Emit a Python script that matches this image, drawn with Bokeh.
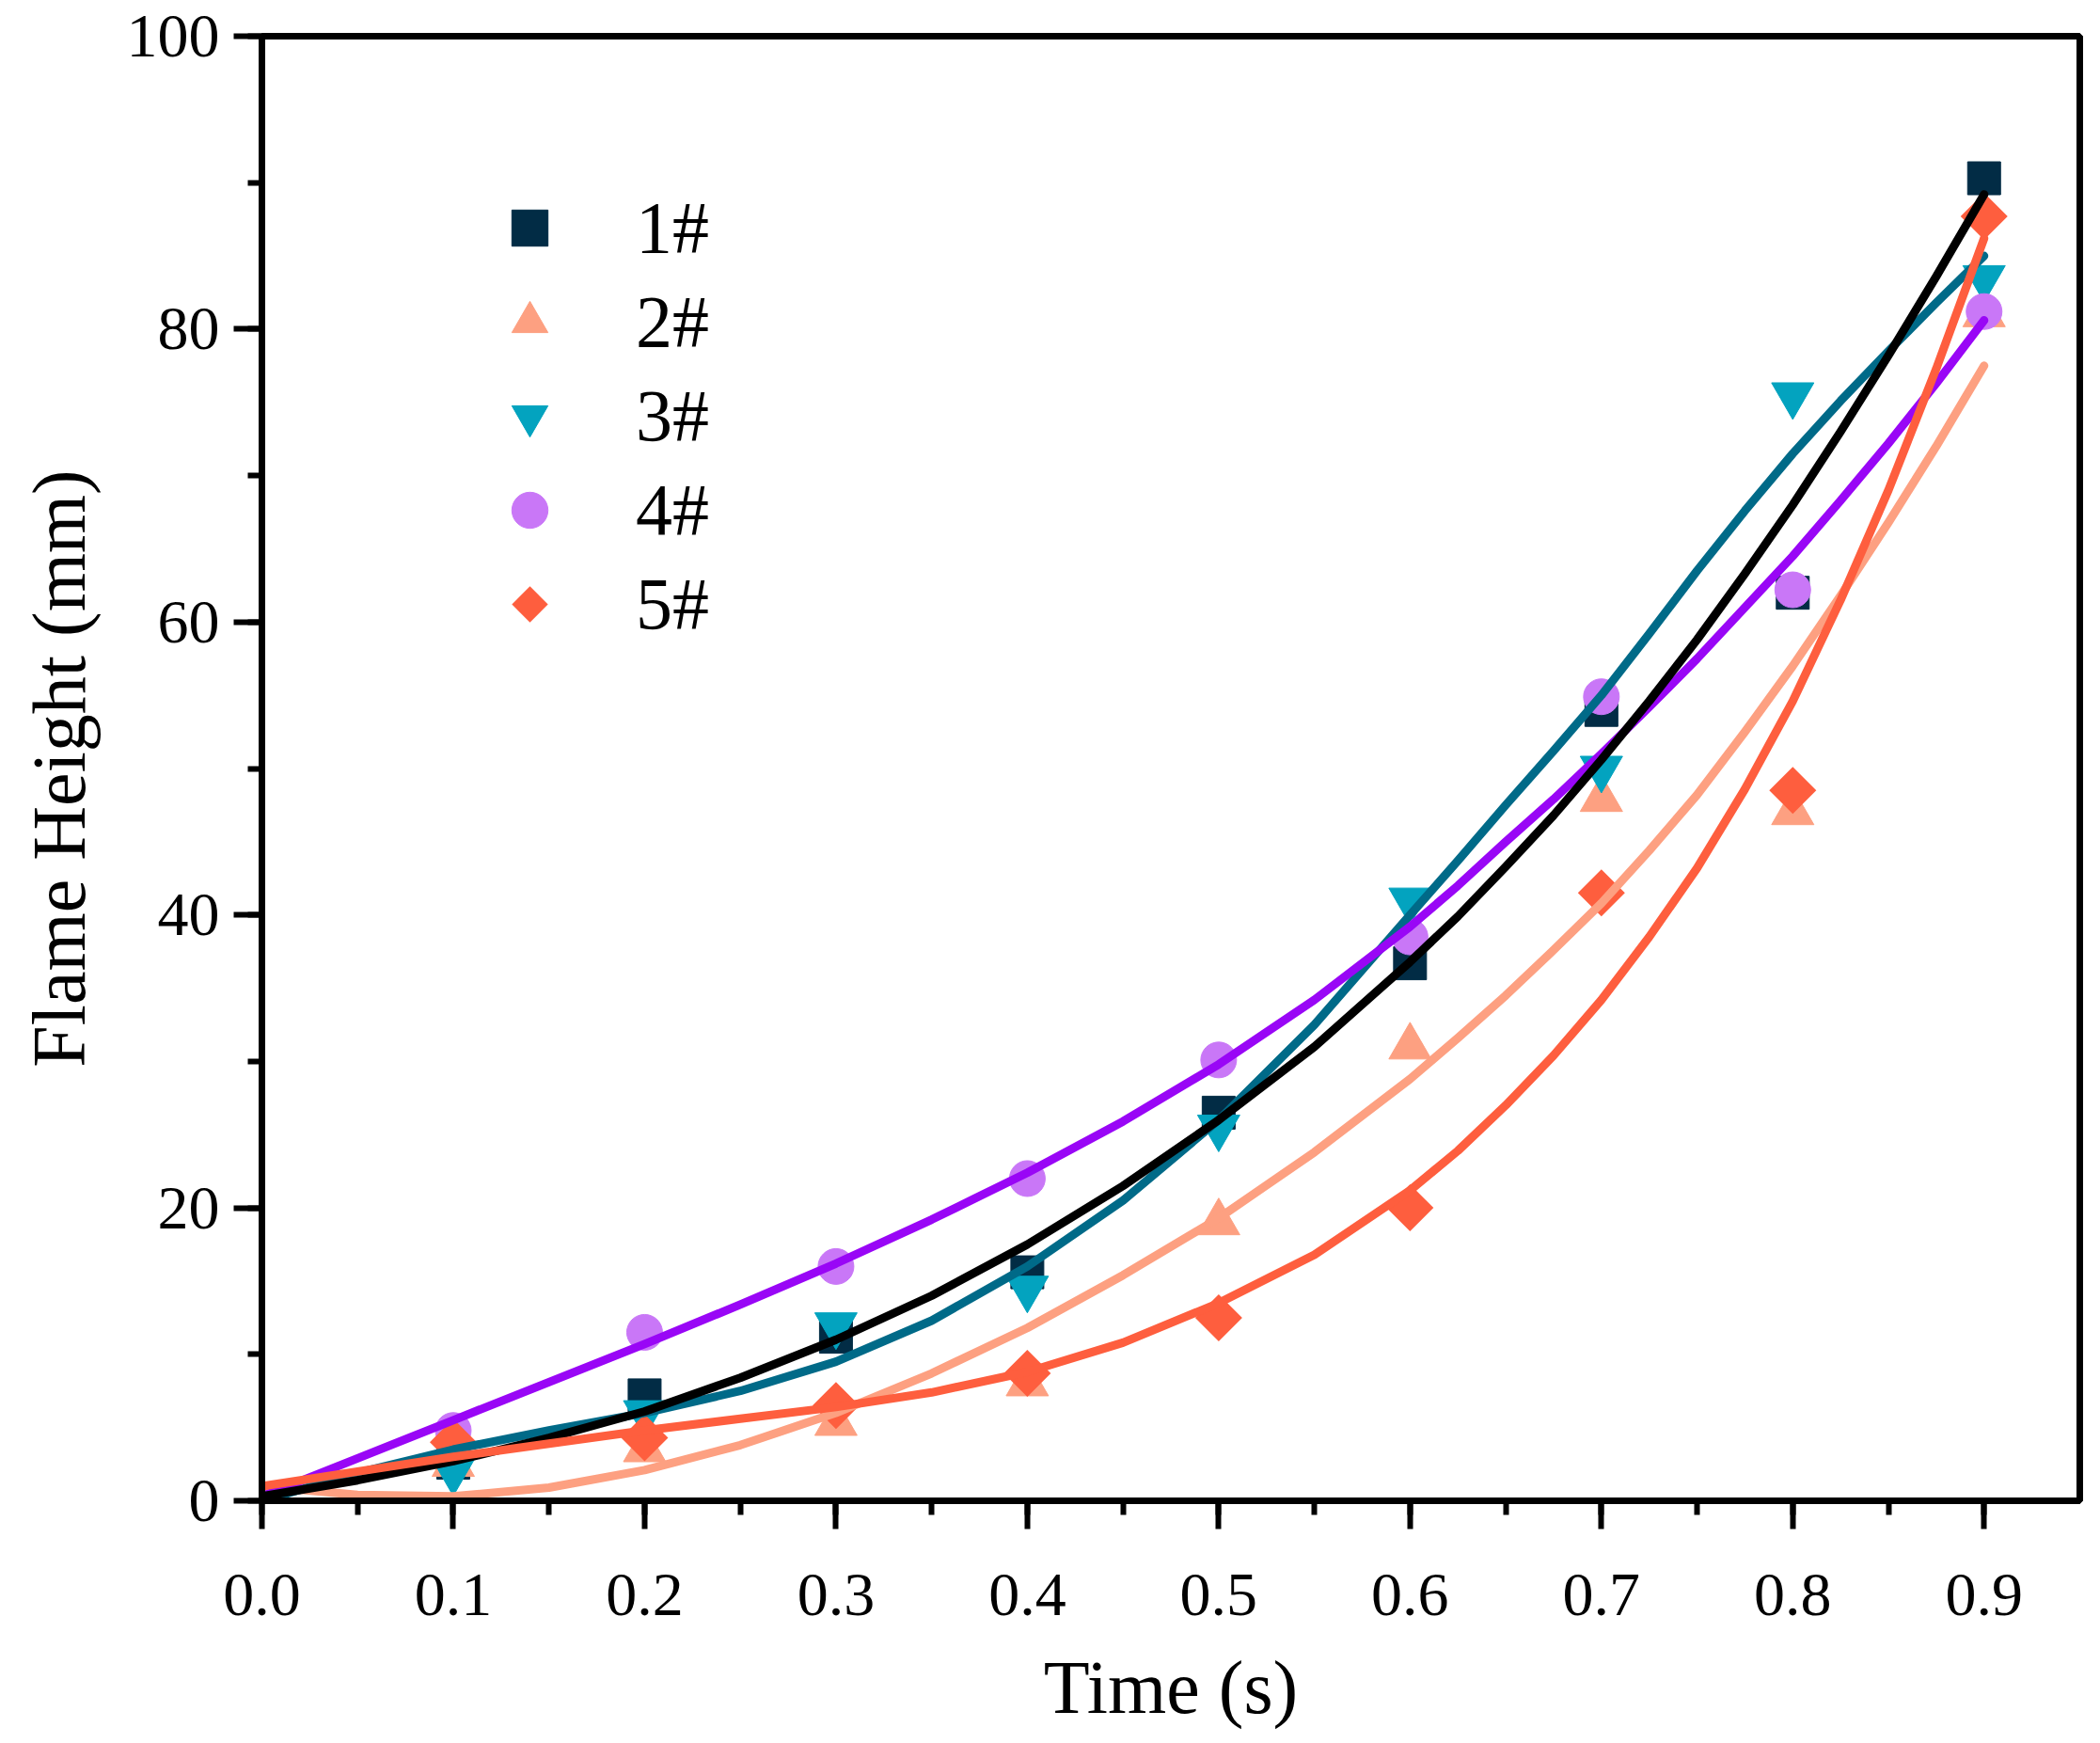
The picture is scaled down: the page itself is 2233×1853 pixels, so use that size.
from bokeh.plotting import figure
from bokeh.models import Range1d, SingleIntervalTicker, PrintfTickFormatter, Legend, LegendItem
from bokeh.embed import file_html
from bokeh.resources import INLINE
import numpy as np

# measured points (time in s, flame height in mm)
time_s = [0.1, 0.2, 0.3, 0.4, 0.5, 0.6, 0.7, 0.8, 0.9]
h1 = [2.6, 7.2, 11.2, 15.6, 26.5, 36.7, 54.0, 62.0, 90.3]
h2 = [2.5, 3.5, 5.3, 8.0, 19.0, 31.0, 47.9, 47.0, 81.0]
h3 = [2.0, 6.0, 12.0, 14.5, 25.5, 41.0, 50.0, 75.5, 83.5]
h4 = [4.8, 11.5, 16.0, 22.0, 30.1, 38.5, 54.9, 62.2, 81.2]
h5 = [4.0, 4.3, 6.5, 8.7, 12.5, 20.0, 41.5, 48.5, 87.7]

# fitted curves (finer steps where they bend most)
fit_t = [0.0, 0.05, 0.1, 0.15, 0.2, 0.25, 0.3, 0.35, 0.4, 0.45, 0.5, 0.55,
         0.6, 0.625, 0.65, 0.675, 0.7, 0.725, 0.75, 0.775, 0.8, 0.825, 0.85, 0.875, 0.9]
fit1 = [0.3, 1.4, 2.7, 4.3, 6.1, 8.4, 11.0, 14.0, 17.5, 21.5, 26.0, 31.0,
        36.8, 39.9, 43.3, 46.8, 50.6, 54.6, 58.8, 63.3, 68.0, 73.0, 78.2, 83.6, 89.2]
fit2 = [1.0, 0.4, 0.3, 0.9, 2.1, 3.8, 6.0, 8.7, 11.8, 15.4, 19.3, 23.8,
        28.8, 31.6, 34.5, 37.6, 40.8, 44.4, 48.2, 52.5, 57.0, 61.8, 66.8, 72.0, 77.5]
fit3 = [0.0, 1.9, 3.5, 4.8, 6.0, 7.5, 9.5, 12.3, 16.0, 20.5, 26.0, 32.5,
        40.0, 43.7, 47.5, 51.2, 55.0, 59.2, 63.5, 67.6, 71.5, 75.1, 78.5, 81.8, 85.0]
fit4 = [0.3, 2.9, 5.5, 8.1, 10.7, 13.4, 16.2, 19.2, 22.4, 25.9, 29.8, 34.2,
        39.2, 42.0, 45.0, 47.9, 51.0, 54.2, 57.5, 61.0, 64.5, 68.3, 72.2, 76.3, 80.6]
fit5 = [1.0, 2.0, 3.0, 3.9, 4.8, 5.6, 6.4, 7.4, 8.8, 10.8, 13.5, 16.8,
        21.2, 23.9, 27.0, 30.4, 34.2, 38.5, 43.2, 48.6, 54.6, 61.5, 69.0, 77.3, 86.2]

labels = ["1#", "2#", "3#", "4#", "5#"]
point_colors = ["#022C45", "#FDA081", "#03A3BF", "#C977F7", "#FE5E3E"]
line_colors = ["#000000", "#FDA081", "#006A88", "#9906F6", "#FE5E3E"]

FONT = "Liberation Serif"

p = figure(
    width=2217,
    height=1850,
    x_range=Range1d(0, 0.95),
    y_range=Range1d(0, 100),
    output_backend="svg",
    toolbar_location=None,
    min_border_left=278,
    min_border_right=6,
    min_border_top=38,
    min_border_bottom=255,
    outline_line_color="black",
    outline_line_width=7,
    background_fill_color="white",
    border_fill_color="white",
)
p.xgrid.visible = False
p.ygrid.visible = False

# scatter markers
s1 = p.scatter(time_s, h1, marker="square", size=35, color=point_colors[0])
s2 = p.scatter(time_s, h2, marker="triangle", size=45, color=point_colors[1])
s3 = p.scatter(time_s, h3, marker="inverted_triangle", size=45, color=point_colors[2])
s4 = p.scatter(time_s, h4, marker="circle", size=38, color=point_colors[3])
try:
    # a four-sided ngon is a true diamond, also in the legend
    s5 = p.ngon(x=time_s, y=h5, radius=25, n=4, radius_units="screen",
                fill_color=point_colors[4], line_color=None)
except Exception:
    s5 = p.scatter(time_s, h5, marker="square", size=35, angle=np.pi / 4,
                   color=point_colors[4])

# fit curves on top
for fit, col in zip([fit2, fit3, fit4, fit1, fit5],
                    [line_colors[1], line_colors[2], line_colors[3], line_colors[0], line_colors[4]]):
    p.line(fit_t, fit, line_color=col, line_width=9, line_cap="round", line_join="round")

p.xaxis.ticker = SingleIntervalTicker(interval=0.1, num_minor_ticks=2)
p.xaxis.formatter = PrintfTickFormatter(format="%.1f")
p.yaxis.ticker = SingleIntervalTicker(interval=20, num_minor_ticks=2)
p.xaxis.axis_label = "Time (s)"
p.yaxis.axis_label = "Flame Height (mm)"

for ax in (p.xaxis[0], p.yaxis[0]):
    ax.axis_line_color = "black"
    ax.axis_line_width = 7
    ax.major_tick_line_width = 6
    ax.major_tick_line_color = "black"
    ax.major_tick_out = 30
    ax.major_tick_in = 0
    ax.minor_tick_line_width = 6
    ax.minor_tick_line_color = "black"
    ax.minor_tick_out = 15
    ax.minor_tick_in = 0
    ax.major_label_text_font = FONT
    ax.major_label_text_font_size = "66px"
    ax.major_label_text_color = "black"
    ax.axis_label_text_font = FONT
    ax.axis_label_text_font_size = "80px"
    ax.axis_label_text_font_style = "normal"
    ax.axis_label_text_color = "black"

p.xaxis.major_label_standoff = 48
p.xaxis.axis_label_standoff = 30
p.yaxis.major_label_standoff = 15
p.yaxis.axis_label_standoff = 25

items = [LegendItem(label=lab, renderers=[r]) for lab, r in zip(labels, [s1, s2, s3, s4, s5])]
legend = Legend(
    items=items,
    location=(227, 895),
    glyph_width=96,
    glyph_height=96,
    spacing=4,
    padding=10,
    margin=0,
    label_standoff=65,
    label_text_font=FONT,
    label_text_font_size="78px",
    label_text_color="black",
    background_fill_alpha=0,
    border_line_alpha=0,
)
p.add_layout(legend)

open("out.html", "w").write(file_html(p, INLINE))
